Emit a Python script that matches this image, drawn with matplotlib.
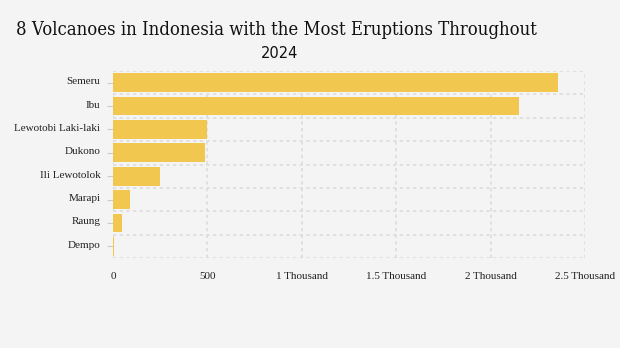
import matplotlib
matplotlib.use("Agg")
import matplotlib.pyplot as plt
import matplotlib.transforms as mtransforms

categories = ["Semeru", "Ibu", "Lewotobi Laki-laki", "Dukono", "Ili Lewotolok", "Marapi", "Raung", "Dempo"]
eruptions = [2357, 2150, 500, 488, 249, 90, 50, 5]
xticks = [0, 500, 1000, 1500, 2000, 2500]
xtick_labels = ["0", "500", "1 Thousand", "1.5 Thousand", "2 Thousand", "2.5 Thousand"]

bg = "#f4f4f4"
fig = plt.figure(figsize=(6.2, 3.48), dpi=100, facecolor=bg)
ax = fig.add_axes([113/620, 1-258/348, (585-113)/620, (258-71)/348], facecolor=bg)

y = list(range(len(categories)))
ax.barh(y, eruptions, height=0.8, color="#f1c750", zorder=2)
ax.set_ylim(len(categories)-0.5, -0.5)
ax.set_xlim(0, 2500)
ax.set_yticks(y)
ax.set_yticklabels(categories, fontfamily="Liberation Serif", fontsize=8, color="#222222")
ax.set_xticks(xticks)
ax.set_xticklabels(xtick_labels, fontfamily="Liberation Serif", fontsize=8, color="#222222")
ax.tick_params(axis="y", length=4, color="#cccccc", pad=5)
ax.tick_params(axis="x", length=0, pad=10)
shift = mtransforms.ScaledTranslation(0, 2/100, fig.dpi_scale_trans)
for lbl in ax.get_yticklabels():
    lbl.set_transform(lbl.get_transform() + shift)

grid_kw = dict(color="#dddddd", linestyle=(0, (2, 2)), linewidth=1.2, zorder=1)
for b in range(len(categories)+1):
    ax.axhline(b-0.5, **grid_kw)
for t in xticks:
    ax.axvline(t, **grid_kw)
for s in ax.spines.values():
    s.set_visible(False)

fig.text(16/620, 1-30/348, "8 Volcanoes in Indonesia with the Most Eruptions Throughout",
         fontfamily="DejaVu Serif", fontsize=13.2, fontstretch="condensed",
         color="#111111", va="center", ha="left")
fig.text(280/620, 1-54/348, "2024", fontfamily="DejaVu Sans", fontsize=10.5,
         color="#111111", va="center", ha="center")

fig.savefig("out.png", dpi=100, facecolor=bg)
